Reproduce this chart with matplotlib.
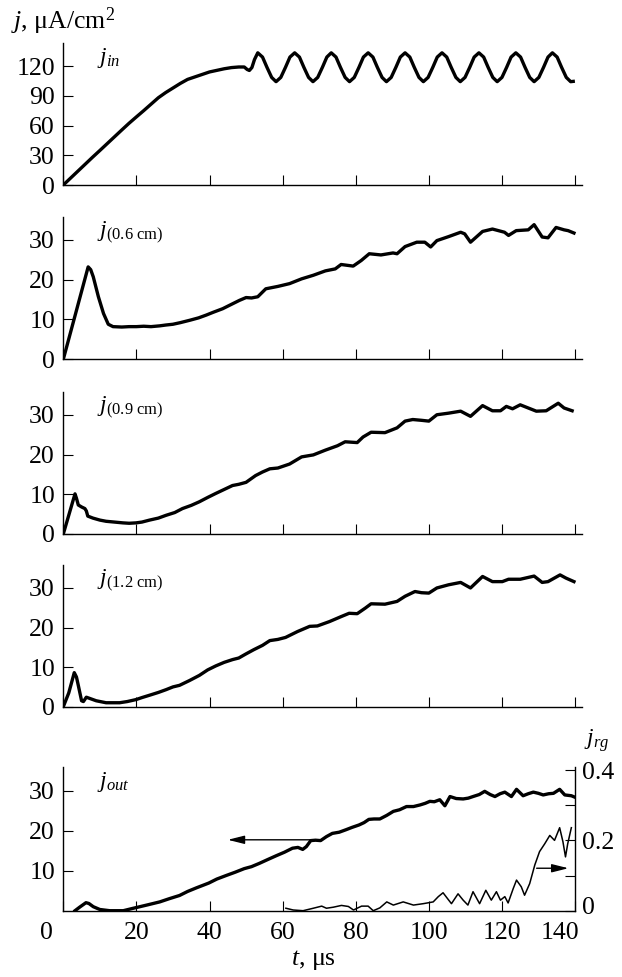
import numpy as np
import matplotlib
matplotlib.use('Agg')
import matplotlib.pyplot as plt
import matplotlib.transforms as mtransforms

plt.rcParams['font.family'] = ['Liberation Serif', 'DejaVu Serif']
plt.rcParams['mathtext.fontset'] = 'custom'
plt.rcParams['mathtext.rm'] = 'Liberation Serif'
plt.rcParams['mathtext.it'] = 'Liberation Serif:italic'
plt.rcParams['font.size'] = 18.5

# input current density, rise then modulated plateau
jin_t = [0, 2, 4, 6, 8, 10, 12, 14, 16, 18, 20, 22, 24, 26, 28, 30, 32, 34, 36, 38,
         40, 42, 44, 46, 48, 49.5, 50.3, 50.9, 51.6, 52.3,
         53.2, 54.5, 55.7, 57.0, 58.2, 59.5, 60.8, 62.0,
         63.3, 64.6, 65.8, 67.1, 68.3, 69.6, 70.9, 72.1,
         73.3, 74.6, 75.8, 77.1, 78.3, 79.6, 80.9, 82.1,
         83.4, 84.7, 85.9, 87.2, 88.4, 89.7, 91.0, 92.2,
         93.5, 94.8, 96.0, 97.3, 98.5, 99.8, 101.1, 102.3,
         103.6, 104.9, 106.1, 107.4, 108.6, 109.9, 111.2, 112.4,
         113.7, 115.0, 116.2, 117.5, 118.7, 120.0, 121.3, 122.5,
         123.8, 125.1, 126.3, 127.6, 128.8, 130.1, 131.4, 132.6,
         133.8, 135.1, 136.3, 137.6, 138.8, 139.5]
jin_v = [0, 7, 14, 21, 28, 34.8, 41.7, 48.6, 55.5, 62.3, 68.7, 75, 81.5, 88, 93.2, 97.8,
         102.4, 106.5, 109, 111.5, 114, 115.6, 117.2, 118.4, 119, 119, 116.5, 115.5, 118.5, 126.5,
         133.3, 129.0, 118.8, 108.5, 104.2, 108.5, 118.8, 129.0,
         133.3, 129.0, 118.8, 108.5, 104.2, 108.5, 118.8, 129.0,
         133.3, 129.0, 118.8, 108.5, 104.2, 108.5, 118.8, 129.0,
         133.3, 129.0, 118.8, 108.5, 104.2, 108.5, 118.8, 129.0,
         133.3, 129.0, 118.8, 108.5, 104.2, 108.5, 118.8, 129.0,
         133.3, 129.0, 118.8, 108.5, 104.2, 108.5, 118.8, 129.0,
         133.3, 129.0, 118.8, 108.5, 104.2, 108.5, 118.8, 129.0,
         133.3, 129.0, 118.8, 108.5, 104.2, 108.5, 118.8, 129.0,
         133.3, 129.0, 118.8, 108.5, 104.2, 104.5]

# probe at 0.6 cm
j06_t = [0, 6.8, 7.5, 8.2, 9.6, 11.0, 12.3, 13.6, 16, 18, 20, 22, 24, 26.4, 28, 30, 32,
         34.6, 37, 39.1, 41, 43.6, 46, 48.2, 50, 51.5, 53.2, 55.4, 58.7, 61.9, 65.2, 68.4,
         71.7, 74.4, 76, 79.3, 81.5, 83.7, 86.9, 90.2, 91.3, 93.5, 96.7, 98.9, 100.5,
         102.2, 105.4, 108.7, 109.8, 111.4, 114.7, 117.4, 120.7, 121.8, 123.9, 127.2,
         128.8, 131, 132.6, 134.8, 137, 138.1, 139.7]
j06_v = [0, 23.2, 22.5, 20.7, 15.7, 11.5, 8.8, 8.2, 8.1, 8.2, 8.2, 8.3, 8.2, 8.4, 8.6, 8.8, 9.2,
         9.8, 10.4, 11.1, 11.8, 12.7, 13.8, 14.8, 15.5, 15.4, 15.7, 17.7, 18.3, 19.0, 20.2, 21.1,
         22.2, 22.7, 23.8, 23.4, 24.8, 26.5, 26.2, 26.7, 26.5, 28.3, 29.4, 29.4, 28.2,
         29.8, 30.8, 31.9, 31.5, 29.4, 32.1, 32.7, 31.9, 31.1, 32.3, 32.5,
         33.8, 30.7, 30.5, 33.1, 32.5, 32.3, 31.7]

# probe at 0.9 cm
j09_t = [0, 3.2, 3.6, 4.1, 5.0, 5.9, 6.3, 6.7, 8.1, 10, 11.7, 14, 16.3, 18, 19.9, 21.5,
         23.6, 26, 28.1, 30.5, 32.6, 35, 37.2, 39.5, 41.7, 44, 46.3, 48, 50, 52.6, 54.5,
         56.5, 58.7, 61.9, 65.2, 68.4, 71.7, 75, 77.1, 80.4, 82, 84.2, 88, 91.3, 93.5,
         95.6, 98, 100, 102.2, 105.4, 108.7, 111.4, 114.7, 117.4, 119.6, 121.2, 122.9,
         125, 127.2, 129.4, 132.1, 135.4, 137, 139.2]
j09_v = [0, 10.1, 9.0, 7.3, 6.8, 6.4, 5.8, 4.5, 4.0, 3.5, 3.2, 3.0, 2.8, 2.7, 2.8, 3.0,
         3.5, 4.0, 4.7, 5.4, 6.4, 7.2, 8.1, 9.2, 10.2, 11.2, 12.2, 12.5, 13.0, 14.7, 15.6,
         16.4, 16.6, 17.6, 19.4, 19.9, 21.1, 22.2, 23.2, 23.0, 24.4, 25.6, 25.5, 26.7, 28.4,
         28.8, 28.6, 28.4, 30.0, 30.4, 30.9, 29.6, 32.3, 31.0, 31.0, 32.1, 31.5,
         32.5, 31.7, 30.9, 31.0, 32.9, 31.7, 31.0]

# probe at 1.2 cm
j12_t = [0, 1.5, 3.0, 3.6, 4.1, 5.0, 5.5, 6.3, 7.2, 9.0, 11.7, 13.5, 15.4, 17.5, 19.9,
         21.5, 23.6, 26, 28.1, 30, 31.8, 34.5, 37.2, 39.5, 41.7, 44, 46.3, 48, 49.9, 52.1,
         54.5, 56.5, 58.7, 60.8, 64.1, 67.4, 69.5, 72.8, 76.1, 78.2, 80.4, 82.6, 84.2, 88,
         91.3, 93.5, 96.2, 98, 100, 102.2, 105.4, 108.7, 111.4, 114.7, 117.4, 120.1, 121.8,
         125, 128.8, 131, 132.6, 135.9, 137.5, 139.7]
j12_v = [0, 3.5, 8.6, 7.5, 5.4, 1.5, 1.3, 2.4, 2.1, 1.5, 1.0, 1.0, 1.0, 1.3, 1.8,
         2.3, 2.9, 3.6, 4.3, 5.0, 5.4, 6.6, 7.9, 9.3, 10.3, 11.2, 11.9, 12.3, 13.3, 14.4,
         15.5, 16.7, 17.0, 17.5, 19.0, 20.3, 20.4, 21.5, 22.8, 23.6, 23.5, 24.9, 26.0, 25.9,
         26.6, 27.9, 29.1, 28.8, 28.7, 30.0, 30.8, 31.4, 30.0, 32.9, 31.6, 31.6, 32.2,
         32.2, 33.0, 31.4, 31.6, 33.3, 32.5, 31.6]

# output current density
jout_t = [3.2, 4.5, 6.2, 7.0, 8.2, 10, 12.7, 16.4, 19.1, 22.8, 26.4, 29, 31.8, 34, 36.4,
          39.8, 42, 44.6, 47, 49.5, 51.5, 53.6, 56, 58.2, 60.5, 62.7, 64.2, 65.5, 66.5,
          67.7, 69, 70.4, 72, 73.6, 75.5, 77.3, 79, 80.9, 82.3, 83.6, 85, 86.6, 88.5, 90.3,
          92, 93.9, 95.8, 97.6, 99, 100.3, 101.5, 103, 104.4, 105.8, 107.5, 109.4, 110.8,
          112.1, 113.8, 115.3, 116.8, 118.1, 119.5, 120.8, 122.6, 124, 125.8, 127.2, 128.6,
          130, 131.3, 132.8, 134.1, 135.8, 137.2, 139, 139.8]
jout_v = [0, 0.9, 2.0, 1.8, 1.0, 0.3, 0.0, 0.0, 0.6, 1.4, 2.2, 3.0, 3.8, 4.8, 5.7,
          6.9, 7.9, 8.8, 9.6, 10.5, 11.0, 11.8, 12.8, 13.7, 14.6, 15.6, 15.8, 15.3, 16.0,
          17.5, 17.6, 17.5, 18.5, 19.3, 19.6, 20.2, 20.8, 21.4, 22.0, 22.8, 22.9, 22.9, 23.8,
          24.8, 25.2, 26.0, 26.0, 26.4, 26.8, 27.3, 27.2, 27.7, 26.2, 28.5, 28.0, 27.9, 28.1,
          28.5, 29.0, 29.8, 29.0, 28.5, 29.2, 29.6, 28.5, 30.3, 28.7, 29.2, 29.6,
          29.3, 28.9, 29.2, 29.3, 30.3, 28.9, 28.7, 28.4]

# regenerated current (right axis)
jrg_t = [60.9, 62.9, 65.6, 68.4, 70.7, 72, 73.9, 76.1, 78, 79.4, 81.6, 83.4, 84.8, 86.6,
         88.5, 90.3, 93, 95.8, 98.5, 101.2, 102.6, 103.9, 105.3, 106.2, 108, 109.4, 110.7,
         112.1, 113.9, 115.6, 117.1, 118.5, 119.6, 120.8, 121.7, 123.1, 124, 125.3, 126.2,
         127.6, 129, 130.3, 131.7, 133.1, 134.4, 135.8, 136.7, 137.4, 138, 139]
jrg_v = [0.007, 0.002, 0.0, 0.007, 0.013, 0.007, 0.01, 0.015, 0.012, 0.002, 0.013, 0.013, 0.0, 0.008,
         0.025, 0.016, 0.025, 0.016, 0.02, 0.025, 0.04, 0.051, 0.032, 0.02, 0.048, 0.03, 0.016,
         0.054, 0.02, 0.058, 0.03, 0.054, 0.03, 0.04, 0.022, 0.063, 0.087, 0.068, 0.044,
         0.077, 0.13, 0.168, 0.19, 0.214, 0.2, 0.236, 0.196, 0.153, 0.19, 0.236]

x_ticks = [0, 20, 40, 60, 80, 100, 120, 140]

W, H = 622.0, 977.0
fig = plt.figure(figsize=(W / 100, H / 100), dpi=100)


def add_panel(top, bottom, right):
    left = 63.3
    return fig.add_axes([left / W, 1 - bottom / H, (right - left) / W, (bottom - top) / H])


def style(ax, xmax, ymax, yticks):
    for side in ('top', 'right'):
        ax.spines[side].set_visible(False)
    for side in ('left', 'bottom'):
        ax.spines[side].set_linewidth(1.0)
    ax.set_xlim(0, xmax)
    ax.set_ylim(0, ymax)
    ax.set_xticks(x_ticks)
    ax.set_yticks(yticks)
    ax.tick_params(direction='in', length=7, width=0.8, pad=6)
    ax.tick_params(axis='x', pad=8)


lw_main = 2.4
panels = [
    (42.7, 185.0, jin_t, jin_v, r'$j_{in}$', 143.5, [0, 30, 60, 90, 120]),
    (216.7, 359.3, j06_t, j06_v, r'$j_{\mathrm{(0.6\ cm)}}$', 35.8, [0, 10, 20, 30]),
    (391.7, 534.0, j09_t, j09_v, r'$j_{\mathrm{(0.9\ cm)}}$', 35.8, [0, 10, 20, 30]),
    (565.0, 706.7, j12_t, j12_v, r'$j_{\mathrm{(1.2\ cm)}}$', 35.8, [0, 10, 20, 30]),
]
for top, bottom, t, v, label, ymax, yticks in panels:
    ax = add_panel(top, bottom, 582.0)
    style(ax, 141.9, ymax, yticks)
    ax.tick_params(labelbottom=False)
    ax.plot(t, v, color='k', lw=lw_main, solid_joinstyle='round')
    ax.text(9.1, 0.86, label, transform=ax.get_xaxis_transform(), fontsize=17, va='baseline')

# bottom panel with the twin axis for j_rg
ax = add_panel(767.3, 910.7, 575.0)
style(ax, 140, 35.8, [10, 20, 30])
ax.set_xticklabels([str(x) for x in x_ticks])
ax.plot(jout_t, jout_v, color='k', lw=lw_main, solid_joinstyle='round', zorder=3)
ax.text(9.1, 0.86, r'$j_{out}$', transform=ax.get_xaxis_transform(), fontsize=17, va='baseline')

ax2 = ax.twinx()
ax2.set_ylim(0, 0.4077)
ax2.set_yticks([0, 0.2, 0.4], ['0', '0.2', '0.4'])
ax2.set_yticks([0.1, 0.3], minor=True)
for side in ('top', 'left', 'bottom'):
    ax2.spines[side].set_visible(False)
ax2.spines['right'].set_linewidth(1.0)
ax2.tick_params(which='both', direction='in', length=7, width=0.8, pad=5)
ax2.plot(jrg_t, jrg_v, color='k', lw=1.1)

arrow = dict(arrowstyle='-|>,head_length=1.0,head_width=0.25', color='k', lw=1.0,
             shrinkA=0, shrinkB=0, mutation_scale=10)
ax.annotate('', xy=(45.0, 17.7), xytext=(67.7, 17.7), arrowprops=arrow)
ax.annotate('', xy=(138.2, 10.6), xytext=(129.5, 10.6), arrowprops=arrow)

# nudge the end labels of the time axis and the lower right label
ticks = ax.xaxis.get_major_ticks()
lab0 = ticks[0].label1
lab0.set_transform(lab0.get_transform() + mtransforms.ScaledTranslation(-0.17, 0, fig.dpi_scale_trans))
lab_end = ticks[-1].label1
lab_end.set_transform(lab_end.get_transform() + mtransforms.ScaledTranslation(-0.15, 0, fig.dpi_scale_trans))
r0 = ax2.yaxis.get_major_ticks()[0].label2
r0.set_transform(r0.get_transform() + mtransforms.ScaledTranslation(0, 0.05, fig.dpi_scale_trans))

fig.text(11 / W, 1 - 28.5 / H, r'$j$, μA/cm$^{2}$', va='baseline', ha='left')
fig.text(584 / W, 1 - 745 / H, r'$j_{rg}$', va='baseline', ha='left', fontsize=17)
fig.text(313 / W, 1 - 965 / H, r'$t$, μs', va='baseline', ha='center')

fig.savefig('out.png', dpi=100)
